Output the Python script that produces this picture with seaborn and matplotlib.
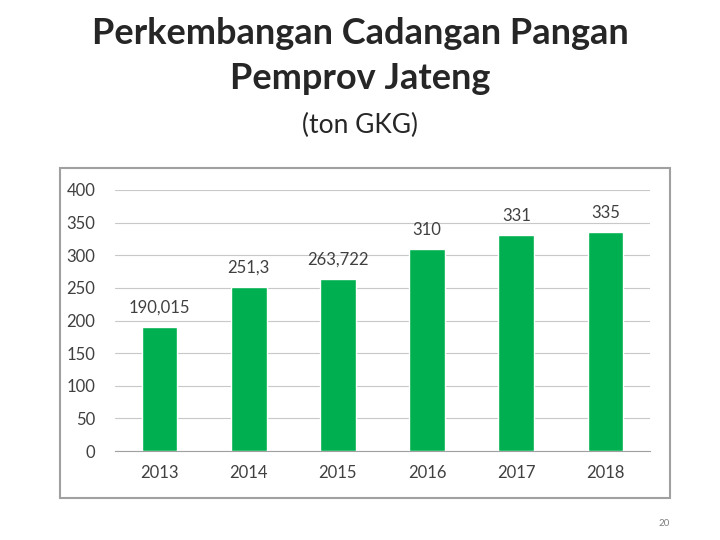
import matplotlib
matplotlib.use('Agg')
import matplotlib.pyplot as plt
import seaborn as sns
from matplotlib.patches import Rectangle

years = ['2013', '2014', '2015', '2016', '2017', '2018']
values = [190.015, 251.3, 263.722, 310, 331, 335]
labels = ['190,015', '251,3', '263,722', '310', '331', '335']

sns.set_style('white')
plt.rcParams['font.family'] = ['Lato', 'DejaVu Sans']

fig = plt.figure(figsize=(7.2, 5.4), dpi=100)
fig.text(0.5, 1 - 56 / 540, 'Perkembangan Cadangan Pangan\nPemprov Jateng', ha='center', va='center',
         fontsize=26, fontweight='bold', linespacing=1.45)
fig.text(0.5, 1 - 125 / 540, '(ton GKG)', ha='center', va='center', fontsize=19)
fig.text(0.93, 0.03, '20', ha='right', va='center', fontsize=7, color='#808080')
fig.patches.append(Rectangle((60 / 720, 1 - 498 / 540), 610 / 720, 330 / 540, transform=fig.transFigure,
                             fill=False, edgecolor='#a0a0a0', linewidth=1.5))

ax = fig.add_axes([115 / 720, 1 - 451 / 540, 535 / 720, 261 / 540])
sns.barplot(x=years, y=values, color='#00b050', width=0.4, saturation=1, ax=ax, zorder=3)
for i, (v, t) in enumerate(zip(values, labels)):
    ax.annotate(t, (i, v), xytext=(0, 8), textcoords='offset points', ha='center', va='bottom',
                fontsize=12, color='#404040')
ax.set_ylim(0, 400)
ax.set_yticks(range(0, 401, 50))
ax.yaxis.grid(True, color='#c8c8c8', linewidth=0.8, zorder=0)
for s in ['top', 'right', 'left']:
    ax.spines[s].set_visible(False)
ax.spines['bottom'].set_color('#a0a0a0')
ax.tick_params(axis='both', labelsize=12, colors='#404040', length=0)
ax.tick_params(axis='y', pad=14)
ax.tick_params(axis='x', pad=10)
ax.set_facecolor('none')
fig.savefig('out.png', dpi=100)
